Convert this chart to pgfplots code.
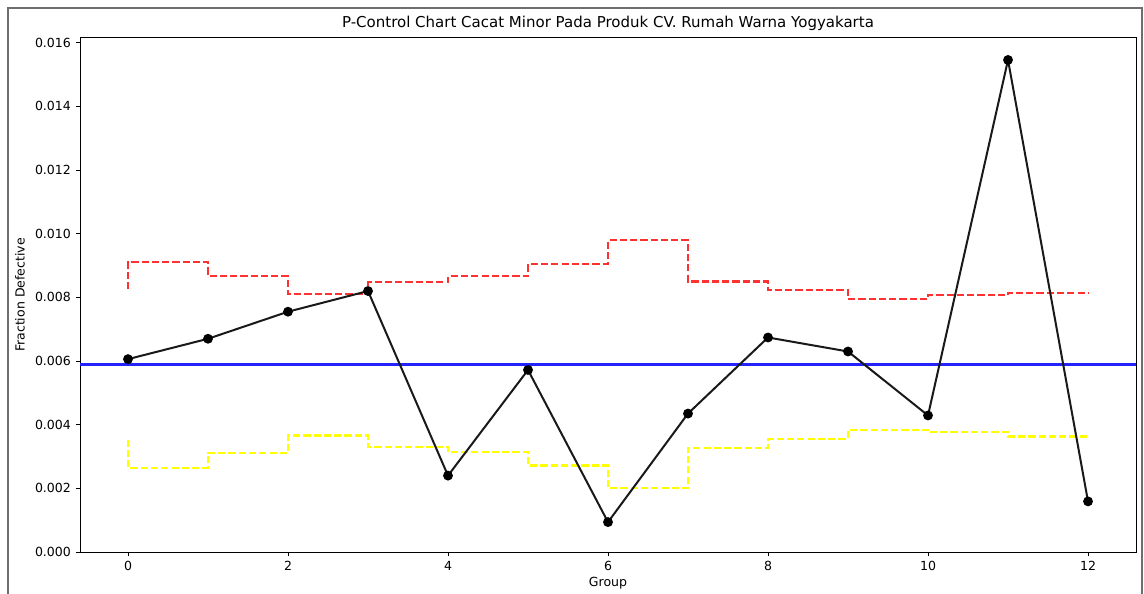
\documentclass[border=0pt]{standalone}
\usepackage{fontspec}
\setmainfont{DejaVu Sans}
\usepackage{pgfplots}
\pgfplotsset{compat=1.18}
\definecolor{uclred}{RGB}{255,50,50}
\definecolor{clblue}{RGB}{35,35,255}
\definecolor{lclyellow}{RGB}{255,255,0}
\definecolor{framegray}{RGB}{110,110,110}
\begin{document}
\begin{tikzpicture}[x=1pt,y=1pt]
\useasboundingbox (0,0) rectangle (858,444.75);
\draw[draw=framegray, line width=1.1pt] (6,-2) -- (6,438.75) -- (856.5,438.75) -- (856.5,-2);
\begin{axis}[
  at={(60pt,30.75pt)}, anchor=south west,
  width=792pt, height=385.5pt, scale only axis,
  xmin=-0.6, xmax=12.6, ymin=0, ymax=0.01615,
  xtick={0,2,4,6,8,10,12},
  ytick={0,0.002,0.004,0.006,0.008,0.010,0.012,0.014,0.016},
  scaled y ticks=false,
  yticklabel style={/pgf/number format/.cd, fixed, fixed zerofill, precision=3},
  /pgf/number format/assume math mode=true,
  tick align=outside, tick pos=left,
  major tick length=3.3pt,
  axis line style={line width=0.75pt, black},
  every tick/.style={black, line width=0.75pt},
  tick label style={font=\fontsize{9.4pt}{11pt}\selectfont},
  every axis title shift=0pt,
  title={P-Control Chart Cacat Minor Pada Produk CV. Rumah Warna Yogyakarta},
  title style={font=\fontsize{11.25pt}{13pt}\selectfont, at={(axis description cs:0.5,1.029)}, anchor=center},
  xlabel={Group},
  ylabel={Fraction Defective},
  xlabel style={font=\fontsize{9.4pt}{11pt}\selectfont, at={(axis description cs:0.5,-0.0603)}, anchor=center},
  ylabel style={font=\fontsize{9.4pt}{11pt}\selectfont, at={(axis description cs:-0.0568,0.5)}, anchor=center, rotate=0},
  clip=true,
]
% center line
\addplot[clblue, line width=2.1pt, forget plot] coordinates {(-0.6,0.00588) (12.6,0.00588)};
% UCL
\addplot[uclred, line width=1.6pt, dash pattern=on 5.4pt off 2.3pt, const plot mark right] coordinates {
(0,0.00826) (1,0.00912) (2,0.00867) (3,0.00810) (4,0.00847) (5,0.00866) (6,0.00905)
(7,0.00980) (8,0.00850) (9,0.00822) (10,0.00794) (11,0.00807) (12,0.00815)};
% LCL
\addplot[lclyellow, line width=1.6pt, dash pattern=on 5.4pt off 2.3pt, const plot mark right] coordinates {
(0,0.00353) (1,0.00264) (2,0.00311) (3,0.00366) (4,0.00331) (5,0.00313) (6,0.00272)
(7,0.00201) (8,0.00327) (9,0.00355) (10,0.00383) (11,0.00376) (12,0.00363)};
% p
\addplot[black!90, line width=1.5pt, mark=*, mark size=2.9pt, mark options={fill=black, draw=black}] coordinates {
(0,0.00606) (1,0.00670) (2,0.00755) (3,0.00820) (4,0.00240) (5,0.00572) (6,0.00094)
(7,0.00435) (8,0.00674) (9,0.00630) (10,0.00429) (11,0.01546) (12,0.00159)};
\end{axis}
\end{tikzpicture}
\end{document}
